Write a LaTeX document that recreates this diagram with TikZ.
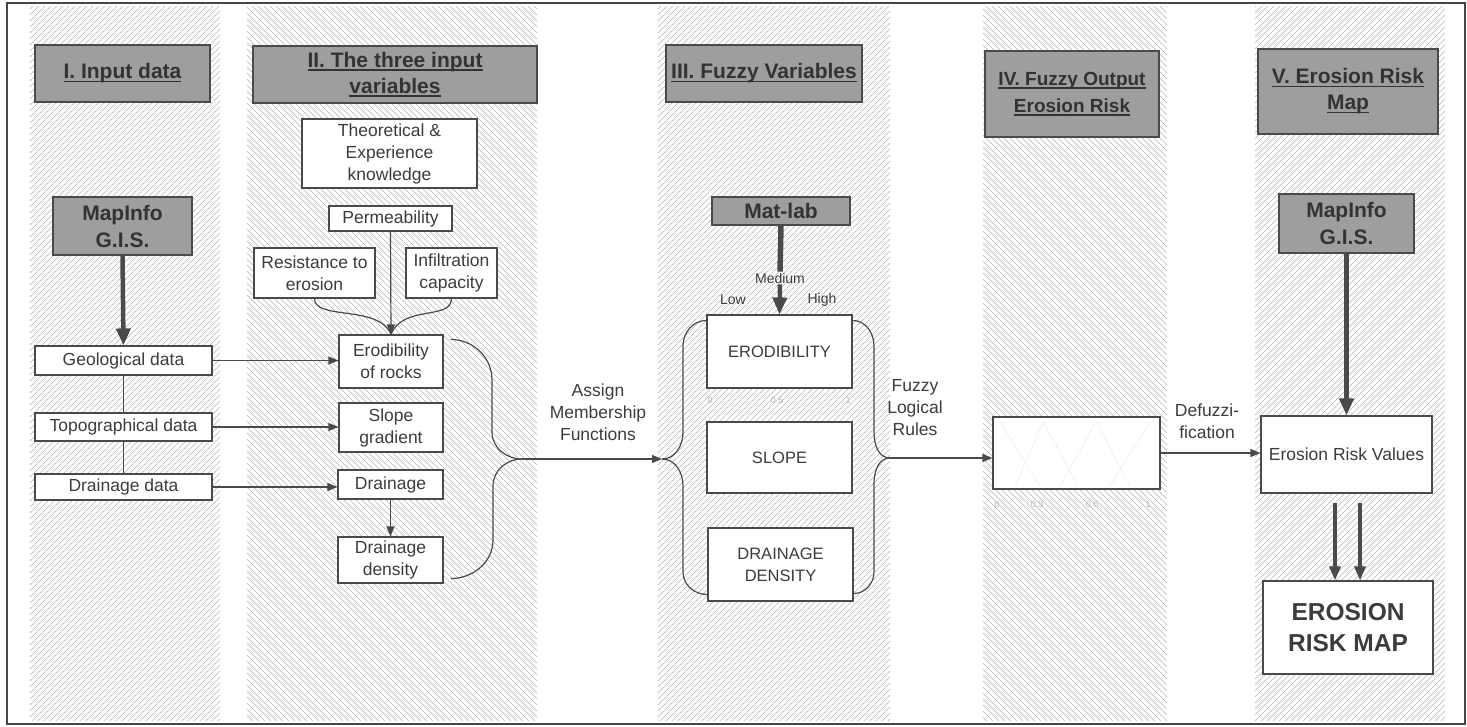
\documentclass[tikz,border=0pt]{standalone}
\usepackage{fontspec}
\setmainfont{Liberation Sans}
\usetikzlibrary{arrows.meta,calc}
\definecolor{ln}{HTML}{4A4A4A}
\definecolor{tx}{HTML}{3C3C3C}
\definecolor{hd}{HTML}{9E9E9E}
\definecolor{hdt}{HTML}{333333}
\definecolor{ht}{HTML}{B4B4B4}
\newcommand\hul[1]{\setbox0\hbox{#1}\rlap{\rule[-3.2pt]{\wd0}{1.6pt}}\box0}
\tikzset{
 hline/.style={draw=ht,line width=0.65pt},
 box/.style={draw=ln,line width=1.1pt,fill=white,inner sep=0pt,align=center,text=tx,font=\fontsize{17.5}{22}\selectfont},
 head/.style={draw=ln,line width=1.1pt,fill=hd,inner sep=0pt,align=center,text=hdt,font=\bfseries\fontsize{21}{26}\selectfont},
 lbl/.style={inner sep=0pt,align=center,text=tx,font=\fontsize{17.5}{22}\selectfont},
 small/.style={inner sep=1pt,text=tx,font=\fontsize{14}{16}\selectfont},
 ticklbl/.style={inner sep=0pt,text=gray!55,font=\fontsize{9}{10}\selectfont},
 arr/.style={draw=ln,line width=1.2pt,-{Triangle[length=10pt,width=8pt]}},
 con/.style={draw=ln,line width=1.2pt},
 fat/.style={draw=ln,line width=4.5pt,-{Triangle[length=17pt,width=14pt]}},
 fatb/.style={draw=ln,line width=3.5pt,-{Triangle[length=14pt,width=11pt]}},
 faint/.style={draw=gray!30,line width=0.6pt,densely dotted},
}
\begin{document}
\begin{tikzpicture}[x=1pt,y=-1pt]
\useasboundingbox (0,0) rectangle (1467,727);
% hatched columns: / = NE, \ = NW
\begin{scope}
\clip (30,6) rectangle (220,721);
\foreach \s in {-700,-694,...,225} \draw[hline] (\s,721) -- ++(715,-715);
\end{scope}
\begin{scope}
\clip (247,6) rectangle (537,721);
\foreach \s in {-480,-474,...,540} \draw[hline] (\s,6) -- ++(715,715);
\end{scope}
\begin{scope}
\clip (658,6) rectangle (890,721);
\foreach \s in {-60,-54,...,895} \draw[hline] (\s,721) -- ++(715,-715);
\end{scope}
\begin{scope}
\clip (983,6) rectangle (1167,721);
\foreach \s in {260,266,...,1170} \draw[hline] (\s,6) -- ++(715,715);
\end{scope}
\begin{scope}
\clip (1255,6) rectangle (1445,721);
\foreach \s in {535,541,...,1450} \draw[hline] (\s,721) -- ++(715,-715);
\end{scope}
\draw[draw=gray!55!black,line width=2pt] (7,3) rectangle (1465,724);

% headers
\node[head,minimum width=175,minimum height=57] (h1) at (122.5,73.5) {\hul{I. Input data}};
\node[head,minimum width=284,minimum height=57] (h2) at (395,74.5) {\hul{II. The three input}\\\hul{variables}};
\node[head,minimum width=196,minimum height=57] (h3) at (764,73.5) {\hul{III. Fuzzy Variables}};
\node[head,minimum width=174,minimum height=86,font=\bfseries\fontsize{19}{27}\selectfont] (h4) at (1072,94) {\hul{IV. Fuzzy Output}\\\hul{Erosion Risk}};
\node[head,minimum width=180,minimum height=85] (h5) at (1348,91.5) {\hul{V. Erosion Risk}\\\hul{Map}};

% column I
\node[head,minimum width=139,minimum height=58,font=\bfseries\fontsize{21}{27}\selectfont] (gis1) at (122.5,226) {MapInfo\\G.I.S.};
\node[box,minimum width=177,minimum height=29] (geo) at (123.5,360.5) {Geological data};
\node[box,minimum width=177,minimum height=28] (topo) at (123.5,427) {Topographical data};
\node[box,minimum width=177,minimum height=26] (ddata) at (123.5,487) {Drainage data};

% column II
\node[box,minimum width=175,minimum height=69] (theo) at (389.5,153.5) {Theoretical \&\\Experience\\knowledge};
\node[box,minimum width=123,minimum height=25] (perm) at (390.5,218.5) {Permeability};
\node[box,minimum width=121,minimum height=50] (resist) at (314.5,273) {Resistance to\\erosion};
\node[box,minimum width=91,minimum height=50] (infil) at (451.5,273) {Infiltration\\capacity};
\node[box,minimum width=104,minimum height=53] (erod) at (391,361.5) {Erodibility\\of rocks};
\node[box,minimum width=104,minimum height=49] (slope) at (391,427.5) {Slope\\gradient};
\node[box,minimum width=105,minimum height=29] (drain) at (390.5,484.5) {Drainage};
\node[box,minimum width=105,minimum height=46] (dd) at (390.5,560) {Drainage\\density};

% column III
\node[head,minimum width=138,minimum height=28] (matlab) at (781,211) {Mat-lab};
\node[small] (medium) at (780,278) {Medium};
\node[small] (low) at (733,300) {Low};
\node[small] (high) at (822,300) {High};
\node[box,minimum width=145,minimum height=73,font=\fontsize{16.5}{22}\selectfont] (E) at (779.5,351.5) {ERODIBILITY};
\node[ticklbl] (e0) at (710,400) {0};
\node[ticklbl] (e5) at (777,400) {0.5};
\node[ticklbl] (e1) at (848,400) {1};
\node[box,minimum width=145,minimum height=71,font=\fontsize{16.5}{22}\selectfont] (S) at (779.5,457.5) {SLOPE};
\node[box,minimum width=145,minimum height=73,font=\fontsize{16.5}{22}\selectfont] (D) at (780.5,564.5) {DRAINAGE\\DENSITY};

% column IV
\node[box,minimum width=167,minimum height=72] (fz) at (1076.5,453) {};
\draw[faint] (1000,422) -- (1040,486);
\draw[faint] (1015,486) -- (1043,422) -- (1078,486);
\draw[faint] (1060,486) -- (1096,422) -- (1130,486);
\draw[faint] (1110,486) -- (1150,422);
\node[ticklbl] (f0) at (997,504) {0};
\node[ticklbl] (f3) at (1037,504) {0.3};
\node[ticklbl] (f6) at (1092,504) {0.6};
\node[ticklbl] (f1) at (1148,504) {1};

% column V
\node[head,minimum width=135,minimum height=59,font=\bfseries\fontsize{21}{27}\selectfont] (gis2) at (1346.5,223.5) {MapInfo\\G.I.S.};
\node[box,minimum width=171,minimum height=77] (erv) at (1346.5,454.5) {Erosion Risk Values};
\node[box,minimum width=170,minimum height=93,font=\bfseries\fontsize{24.5}{31}\selectfont] (erm) at (1348,627.5) {EROSION\\RISK MAP};

% labels
\node[lbl] (assign) at (598,412) {Assign\\Membership\\Functions};
\node[lbl] (rules) at (915,408) {Fuzzy\\Logical\\Rules};
\node[lbl] (defuzz) at (1207,421) {Defuzzi-\\fication};

% connectors column I
\draw[fat] (gis1.south) -- (geo.north);
\draw[con] (geo.south) -- (topo.north);
\draw[con] (topo.south) -- (ddata.north);
\draw[arr] (geo.east) -- (geo.east -| erod.west);
\draw[arr] (topo.east) -- (topo.east -| slope.west);
\draw[arr] (ddata.east) -- (ddata.east -| drain.west);

% connectors column II
\draw[con] (resist.south) .. controls ($(resist.south)+(0,22)$) and ($(erod.north)+(-12,-30)$) .. (erod.north);
\draw[con] (infil.south) .. controls ($(infil.south)+(0,22)$) and ($(erod.north)+(12,-30)$) .. (erod.north);
\draw[arr] (perm.south) -- (erod.north);
\draw[arr] (drain.south) -- (dd.north);

% braces and membership arrow
\coordinate (jL) at (522,459);
\coordinate (jR0) at (662,459);
\coordinate (jR1) at (890,458);
\draw[con] ($(erod.north east)+(7,5)$) to[out=0,in=90] (492,380) -- (492,432) to[out=-90,in=180] (jL);
\draw[con] ($(dd.south east)+(7,-5)$) to[out=0,in=-90] (493,540) -- (493,486) to[out=90,in=180] (jL);
\draw[arr] (jL) -- (jR0);
\draw[con] (jR0) to[out=0,in=-90] (683,432) -- (683,346) to[out=90,in=180] ($(E.north west)+(0,6)$);
\draw[con] (jR0) to[out=0,in=90] (683,486) -- (683,572) to[out=-90,in=180] ($(D.south west)+(0,-7)$);
\draw[con] ($(E.north east)+(0,6)$) to[out=0,in=90] (874,346) -- (874,432) to[out=-90,in=180] (jR1);
\draw[con] ($(D.south east)+(0,-8)$) to[out=0,in=-90] (874,572) -- (874,484) to[out=90,in=180] (jR1);
\draw[arr] (jR1) -- (jR1 -| fz.west);

% column III
\draw[draw=ln,line width=5.5pt] (matlab.south) -- (medium.north);
\draw[fat] (medium.south) -- (E.north);

% column IV/V
\draw[arr] (fz.east) -- (fz.east -| erv.west);
\draw[fat] (gis2.south) -- (erv.north);
\coordinate (a1) at ($(erv.south)+(-11.5,9)$);
\coordinate (a2) at ($(erv.south)+(13.5,9)$);
\draw[fatb] (a1) -- (a1 |- erm.north);
\draw[fatb] (a2) -- (a2 |- erm.north);
\end{tikzpicture}
\end{document}
